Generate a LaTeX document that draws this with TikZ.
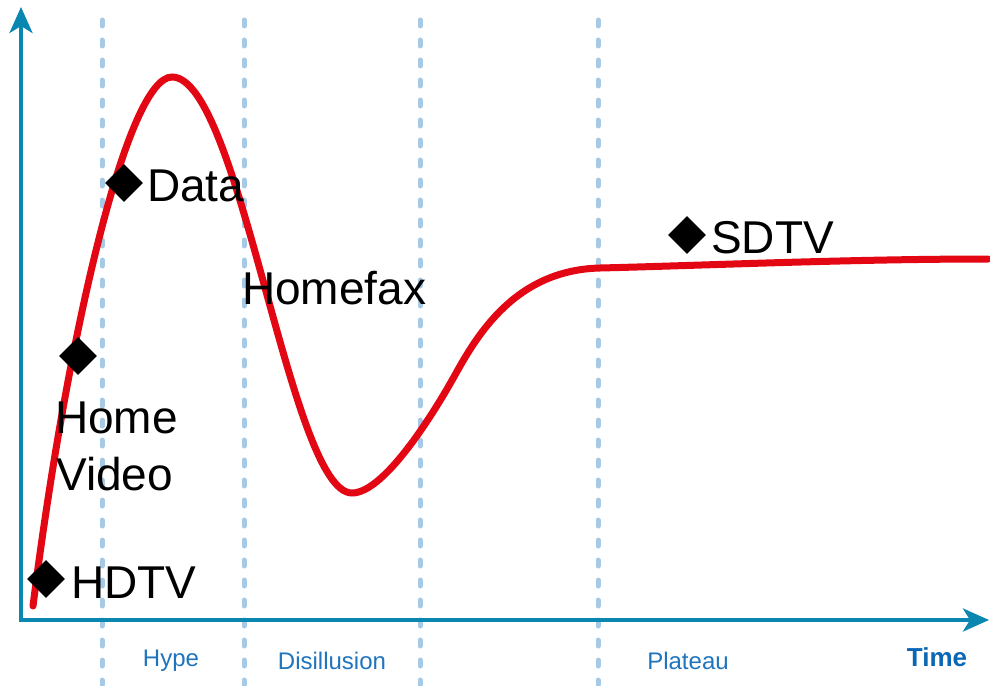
\documentclass[tikz,border=0pt]{standalone}
\usepackage{fontspec}
\setmainfont{Liberation Sans}
\usetikzlibrary{shapes.geometric,arrows.meta}
\definecolor{axisblue}{HTML}{0A87B0}
\definecolor{dashblue}{HTML}{A6CAE6}
\definecolor{curvered}{HTML}{E30613}
\definecolor{phaseblue}{HTML}{1F74BE}
\definecolor{timeblue}{HTML}{0A67B5}
\tikzset{
  phaseline/.style={dashblue, line width=5pt, line cap=round, dash pattern=on 6pt off 14pt},
  axisline/.style={axisblue, line width=4pt, -{Stealth[length=26pt,width=23pt,inset=7pt]}},
  hypecurve/.style={curvered, line width=7pt, line cap=round},
  marker/.style={diamond, fill=black, minimum width=38pt, minimum height=38pt, inner sep=0pt},
  biglabel/.style={inner sep=0pt, anchor=base west, font=\fontsize{46}{55}\selectfont},
  phaselabel/.style={inner sep=0pt, text=phaseblue, font=\fontsize{24}{29}\selectfont},
}
\begin{document}
\begin{tikzpicture}[x=1pt,y=-1pt]
\useasboundingbox (0,0) rectangle (990,685);
% phase separators
\foreach \xx/\nm in {102/a,244/b,420/c,598/d}{
  \coordinate (top\nm) at (\xx,20);
  \coordinate (bot\nm) at (\xx,685);
  \draw[phaseline] (top\nm) -- (bot\nm);
}
% axes
\coordinate (origin) at (21,620);
\coordinate (ytip) at (21,7);
\coordinate (xtip) at (989,620);
\draw[axisline] (origin) -- (ytip);
\draw[axisline] (19,620) -- (xtip);
% hype curve
\coordinate (cstart) at (33,606);
\coordinate (cpeak) at (172,77);
\coordinate (ctrough) at (352,493);
\coordinate (cinfl) at (455,375);
\coordinate (cknee) at (600,268);
\coordinate (cend) at (988,259);
\draw[hypecurve] (cstart)
  .. controls (68,330) and (128,77) .. (cpeak)
  .. controls (240,77) and (290,493) .. (ctrough)
  .. controls (385,493) and (435.6,410) .. (cinfl)
  .. controls (476.9,335.7) and (515,270) .. (cknee)
  .. controls (700,265.6) and (850,259) .. (cend);
% markers
\node[marker] (mhdtv) at (46,579) {};
\node[marker] (mhome) at (78,356) {};
\node[marker] (mdata) at (124,183) {};
\node[marker] (msdtv) at (687,235) {};
% labels
\node[biglabel] (lhdtv) at (71,598) {HDTV};
\node[biglabel] (lhome) at (55,433) {Home};
\node[biglabel] (lvideo) at (56,490) {Video};
\node[biglabel] (ldata) at (147,201) {Data};
\node[biglabel] (lfax) at (242,304) {Homefax};
\node[biglabel] (lsdtv) at (711,253) {SDTV};
% phase labels
\node[phaselabel] (hype) at (171,661) {Hype};
\node[phaselabel] (dis) at (332,661) {Disillusion};
\node[phaselabel] (plat) at (688,661) {Plateau};
\node[inner sep=0pt, text=timeblue, font=\fontsize{26}{31}\selectfont\bfseries] (time) at (937,657) {Time};
\end{tikzpicture}
\end{document}
